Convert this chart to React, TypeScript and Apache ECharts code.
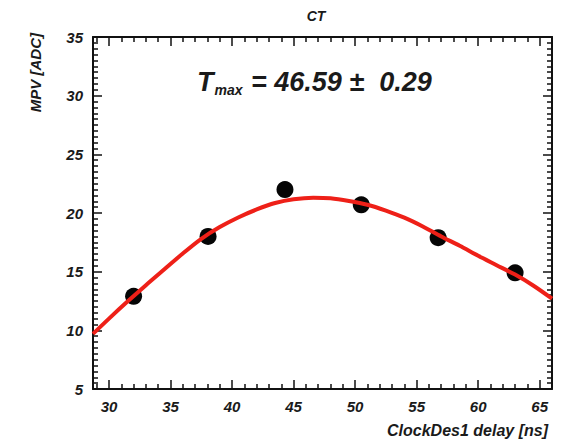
import React, { useEffect, useRef } from "react";
import * as echarts from "echarts";

const measX = [32.0, 38.05, 44.3, 50.5, 56.75, 63.0];
const measY = [12.9, 18.0, 22.0, 20.7, 17.9, 14.9];

const fitX = [28.7, 30, 31.5, 33, 34.5, 36, 37.5, 39, 40.5, 42, 43.5, 45, 46.6, 48, 49.5, 51, 52.5, 54, 55.5, 57, 58.5, 60, 61.5, 63, 64.5, 66];
const fitY = [9.7, 11.0, 12.45, 13.85, 15.2, 16.55, 17.8, 18.8, 19.62, 20.3, 20.85, 21.17, 21.3, 21.25, 21.02, 20.7, 20.2, 19.6, 18.85, 18.0, 17.2, 16.35, 15.55, 14.75, 13.8, 12.7];

const xMajorTicks = [30, 35, 40, 45, 50, 55, 60, 65];
const xMin = 28.7;
const xMax = 66;
const yMin = 5;
const yMax = 35;
const yStep = 5;

const titleText = "CT";
const xTitle = "ClockDes1 delay [ns]";
const yTitle = "MPV [ADC]";
const tmaxValue = "46.59";
const tmaxError = "0.29";

const FONT = "Liberation Sans, Arial, Helvetica, sans-serif";
const INK = "#1a1a1a";

export default function App() {
  const ref = useRef<HTMLDivElement>(null);
  useEffect(() => {
    if (!ref.current) return;
    const chart = echarts.init(ref.current, undefined, { renderer: "svg" });
    const xMinor: number[] = [];
    for (let v = Math.ceil(xMin); v <= xMax; v++) {
      if (!xMajorTicks.includes(v)) xMinor.push(v);
    }
    const yMinor: number[] = [];
    for (let k = yMin * 2; k <= yMax * 2; k++) {
      if (k % (yStep * 2) !== 0) yMinor.push(k / 2);
    }
    const lbl = {
      color: INK,
      fontFamily: FONT,
      fontWeight: "bold" as const,
      fontStyle: "italic" as const,
      fontSize: 15,
    };
    const line = { show: true, lineStyle: { color: "#111", width: 2 } };
    const tickStyle = { color: "#111", width: 1.5 };
    const baseX = (position: "bottom" | "top", major: boolean, labels: boolean) => ({
      type: "value" as const,
      position,
      min: xMin,
      max: xMax,
      axisLine: major ? line : { show: false },
      splitLine: { show: false },
      axisTick: {
        show: true,
        inside: true,
        length: major ? 9 : 5,
        customValues: major ? xMajorTicks : xMinor,
        lineStyle: tickStyle,
      },
      axisLabel: labels
        ? { show: true, customValues: xMajorTicks, margin: 10, ...lbl }
        : { show: false },
    });
    const baseY = (position: "left" | "right", labels: boolean) => ({
      type: "value" as const,
      position,
      min: yMin,
      max: yMax,
      interval: yStep,
      axisLine: line,
      splitLine: { show: false },
      axisTick: { show: true, inside: true, length: 9, lineStyle: tickStyle },
      axisLabel: labels ? { show: true, margin: 10, ...lbl } : { show: false },
    });
    const minorY = (position: "left" | "right") => ({
      type: "value" as const,
      position,
      min: yMin,
      max: yMax,
      axisLine: { show: false },
      splitLine: { show: false },
      axisTick: { show: true, inside: true, length: 5, customValues: yMinor, lineStyle: tickStyle },
      axisLabel: { show: false },
    });
    chart.setOption({
      animation: false,
      backgroundColor: "#ffffff",
      grid: { left: 93, right: 12, top: 37, bottom: 53, containLabel: false },
      xAxis: [
        baseX("bottom", true, true),
        baseX("bottom", false, false),
        baseX("top", true, false),
        baseX("top", false, false),
      ],
      yAxis: [baseY("left", true), baseY("right", false), minorY("left"), minorY("right")],
      series: [
        {
          type: "scatter",
          xAxisIndex: 0,
          yAxisIndex: 0,
          data: measX.map((x, i) => [x, measY[i]]),
          symbol: "circle",
          symbolSize: 17,
          itemStyle: { color: "#050505", opacity: 1 },
          z: 2,
        },
        {
          type: "line",
          xAxisIndex: 0,
          yAxisIndex: 0,
          data: fitX.map((x, i) => [x, fitY[i]]),
          smooth: 0.3,
          showSymbol: false,
          symbol: "none",
          lineStyle: { color: "#ee2018", width: 4 },
          z: 3,
        },
      ],
      graphic: [
        {
          type: "text",
          x: 316,
          y: 16,
          style: {
            text: titleText,
            fill: INK,
            font: `italic bold 14px ${FONT}`,
            align: "center",
            verticalAlign: "middle",
          },
        },
        {
          type: "text",
          x: 548,
          y: 430,
          style: {
            text: xTitle,
            fill: INK,
            font: `italic bold 16px ${FONT}`,
            align: "right",
            verticalAlign: "middle",
          },
        },
        {
          type: "text",
          x: 35,
          y: 33,
          rotation: Math.PI / 2,
          style: {
            text: yTitle,
            fill: INK,
            font: `italic bold 15px ${FONT}`,
            align: "right",
            verticalAlign: "middle",
          },
        },
        {
          type: "text",
          x: 197,
          y: 82,
          style: {
            text: `{t|T}{s|max}{t| = ${tmaxValue} \u00b1  ${tmaxError}}`,
            verticalAlign: "middle",
            align: "left",
            rich: {
              t: { fill: INK, fontFamily: FONT, fontWeight: "bold", fontStyle: "italic", fontSize: 27 },
              s: {
                fill: INK,
                fontFamily: FONT,
                fontWeight: "bold",
                fontStyle: "italic",
                fontSize: 14,
                padding: [16, 1, 0, 1],
              },
            },
          },
        },
      ],
    });
    return () => chart.dispose();
  }, []);
  return <div ref={ref} style={{ width: 564, height: 442, position: "absolute", left: 0, top: 0 }} />;
}
